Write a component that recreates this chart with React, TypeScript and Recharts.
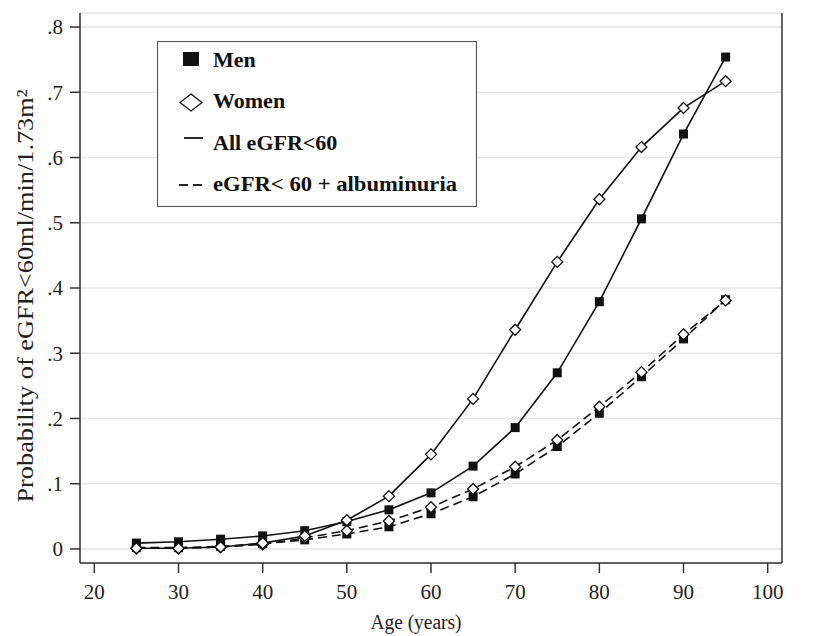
import {
  LineChart,
  Line,
  XAxis,
  YAxis,
  CartesianGrid,
  Legend,
} from 'recharts';

// age groups (x) and predicted probabilities
const ages = [25, 30, 35, 40, 45, 50, 55, 60, 65, 70, 75, 80, 85, 90, 95];
const menAll = [0.009, 0.011, 0.015, 0.02, 0.028, 0.042, 0.06, 0.086, 0.127, 0.186, 0.27, 0.379, 0.506, 0.636, 0.754];
const womenAll = [0.001, 0.001, 0.003, 0.009, 0.02, 0.044, 0.081, 0.145, 0.23, 0.336, 0.44, 0.536, 0.616, 0.676, 0.717];
const menAlb = [0.002, 0.002, 0.004, 0.008, 0.014, 0.023, 0.034, 0.054, 0.08, 0.115, 0.157, 0.208, 0.264, 0.322, 0.382];
const womenAlb = [0.001, 0.001, 0.003, 0.007, 0.017, 0.028, 0.043, 0.064, 0.092, 0.126, 0.167, 0.218, 0.271, 0.329, 0.381];

const xTicks = [20, 30, 40, 50, 60, 70, 80, 90, 100];
const yTicks = [0, 0.1, 0.2, 0.3, 0.4, 0.5, 0.6, 0.7, 0.8];

const data = ages.map((age, i) => ({
  age,
  menAll: menAll[i],
  womenAll: womenAll[i],
  menAlb: menAlb[i],
  womenAlb: womenAlb[i],
}));

const FONT = '"Liberation Serif", "Times New Roman", serif';
const INK = '#111';
const AXIS = '#333';

const fmtY = (v: number) => (v === 0 ? '0' : v.toFixed(1).replace(/^0/, ''));

const renderSquare = (props: any) => {
  const { cx, cy, index } = props;
  if (cx == null || cy == null) return <g key={`s-${index}`} />;
  return <rect key={`s-${index}`} x={cx - 4.5} y={cy - 4.5} width={9} height={9} fill={INK} />;
};

const renderDiamond = (props: any) => {
  const { cx, cy, index } = props;
  if (cx == null || cy == null) return <g key={`d-${index}`} />;
  const r = 5.5;
  return (
    <polygon
      key={`d-${index}`}
      points={`${cx},${cy - r} ${cx + r},${cy} ${cx},${cy + r} ${cx - r},${cy}`}
      fill="#fff"
      stroke={INK}
      strokeWidth={1.3}
    />
  );
};

const renderLegend = () => (
  <svg width={320} height={166} style={{ display: 'block' }}>
    <rect x={0.5} y={0.5} width={319} height={165} fill="#fff" stroke="#555" strokeWidth={1.2} />
    <rect x={26} y={11} width={16} height={14} fill={INK} />
    <polygon points="34,53 45,61.5 34,70 23,61.5" fill="#fff" stroke={INK} strokeWidth={1.3} />
    <line x1={27} x2={46} y1={97} y2={97} stroke={INK} strokeWidth={1.8} />
    <line x1={22} x2={31} y1={144} y2={144} stroke={INK} strokeWidth={1.8} />
    <line x1={36} x2={45} y1={144} y2={144} stroke={INK} strokeWidth={1.8} />
    <g fontFamily={FONT} fontWeight="bold" fontSize={22} fill={INK}>
      <text x={56} y={26}>Men</text>
      <text x={56} y={67}>Women</text>
      <text x={56} y={109}>All eGFR&lt;60</text>
      <text x={56} y={150} textLength={244} lengthAdjust="spacingAndGlyphs">eGFR&lt; 60 + albuminuria</text>
    </g>
  </svg>
);

export default function App() {
  const tickStyle = { fill: '#222', fontSize: 21, fontFamily: FONT };
  const lineStyle = { stroke: AXIS, strokeWidth: 1.5 };

  return (
    <div style={{ width: 808, height: 628 }}>
      <LineChart
        width={808}
        height={628}
        data={data}
        margin={{ top: 5, right: 0, bottom: 0, left: 0 }}
        style={{ fontFamily: FONT }}
      >
        <CartesianGrid yAxisId="left" vertical={false} stroke="#e6e6e6" strokeWidth={1.5} />
        <XAxis
          type="number"
          dataKey="age"
          domain={[18.3, 101.7]}
          ticks={xTicks}
          height={73}
          tickSize={10}
          tickMargin={11}
          axisLine={lineStyle}
          tickLine={lineStyle}
          tick={tickStyle}
          label={() => (
            <text
              x={408}
              y={621}
              textAnchor="middle"
              fontFamily={FONT}
              fontSize={20}
              fill="#222"
              textLength={91}
              lengthAdjust="spacingAndGlyphs"
            >
              Age (years)
            </text>
          )}
        />
        <YAxis
          yAxisId="left"
          type="number"
          domain={[-0.0215, 0.8215]}
          ticks={yTicks}
          tickFormatter={fmtY}
          width={72}
          tickSize={10}
          tickMargin={7}
          axisLine={lineStyle}
          tickLine={lineStyle}
          tick={tickStyle}
          label={() => (
            <text
              x={25}
              y={288}
              transform="rotate(-90 25 288)"
              textAnchor="middle"
              fontFamily={FONT}
              fontSize={23}
              fill="#222"
              textLength={413}
              lengthAdjust="spacingAndGlyphs"
            >
              Probability of eGFR&lt;60ml/min/1.73m²
            </text>
          )}
        />
        <YAxis
          yAxisId="right"
          orientation="right"
          type="number"
          domain={[-0.0215, 0.8215]}
          ticks={yTicks}
          tickFormatter={fmtY}
          width={34}
          tickSize={9}
          tickMargin={6}
          axisLine={lineStyle}
          tickLine={lineStyle}
          tick={tickStyle}
        />
        <Line yAxisId="left" type="linear" dataKey="menAlb" stroke={INK} strokeWidth={1.6} strokeDasharray="9 5" dot={renderSquare} isAnimationActive={false} />
        <Line yAxisId="left" type="linear" dataKey="womenAlb" stroke={INK} strokeWidth={1.6} strokeDasharray="9 5" dot={renderDiamond} isAnimationActive={false} />
        <Line yAxisId="left" type="linear" dataKey="menAll" stroke={INK} strokeWidth={1.6} dot={renderSquare} isAnimationActive={false} />
        <Line yAxisId="left" type="linear" dataKey="womenAll" stroke={INK} strokeWidth={1.6} dot={renderDiamond} isAnimationActive={false} />
        <Legend
          content={renderLegend}
          layout="vertical"
          align="center"
          verticalAlign="middle"
          wrapperStyle={{ left: 149, top: 33, width: 320, height: 166 }}
        />
      </LineChart>
    </div>
  );
}
